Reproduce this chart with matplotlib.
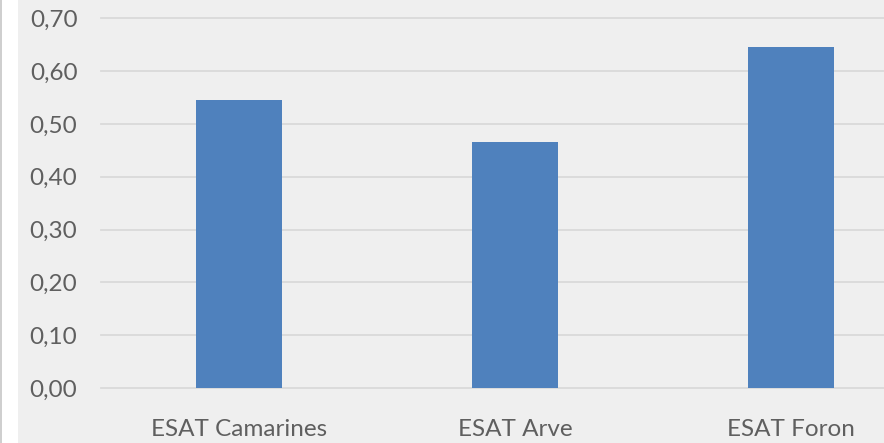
import matplotlib
matplotlib.use("Agg")
import matplotlib.pyplot as plt
from matplotlib.patches import Rectangle
from matplotlib.ticker import FuncFormatter

# Data
stations = ["ESAT Camarines", "ESAT Arve", "ESAT Foron"]
values = [0.545, 0.465, 0.646]
yticks = [0.0, 0.1, 0.2, 0.3, 0.4, 0.5, 0.6, 0.7]

plt.rcParams['font.family'] = ['Lato', 'DejaVu Sans']

W, H = 884, 443
fig = plt.figure(figsize=(W / 100, H / 100), dpi=100, facecolor='#efefef')

# white strip with thin grey border on the left edge
fig.patches.append(Rectangle((0, 0), 18 / W, 1, transform=fig.transFigure,
                             facecolor='white', edgecolor='none', zorder=0))
fig.patches.append(Rectangle((0, 0), 2 / W, 1, transform=fig.transFigure,
                             facecolor='#cfcfcf', edgecolor='none', zorder=1))

# plot area runs past the right edge (cropped screenshot)
left, right = 101 / W, 929 / W
bottom, top = (H - 388) / H, (H - 18.4) / H
ax = fig.add_axes([left, bottom, right - left, top - bottom])
ax.set_facecolor('none')

x = range(len(stations))
ax.bar(x, values, width=0.31, color='#4f81bd', zorder=3)

ax.set_xlim(-0.5, len(stations) - 0.5)
ax.set_ylim(0, 0.7)
ax.set_yticks(yticks)
ax.yaxis.set_major_formatter(FuncFormatter(lambda v, p: f"{v:.2f}".replace('.', ',')))
ax.set_xticks(list(x))
ax.set_xticklabels(stations)

for t in yticks:
    ax.axhline(t, color='#d9d9d9', linewidth=1.3, zorder=1, clip_on=False)

for s in ax.spines.values():
    s.set_visible(False)
ax.tick_params(axis='both', length=0, colors='#5f5f5f', labelsize=17.5)
ax.tick_params(axis='y', pad=17)
ax.tick_params(axis='x', pad=22)

fig.savefig('out.png', dpi=100, facecolor=fig.get_facecolor())
